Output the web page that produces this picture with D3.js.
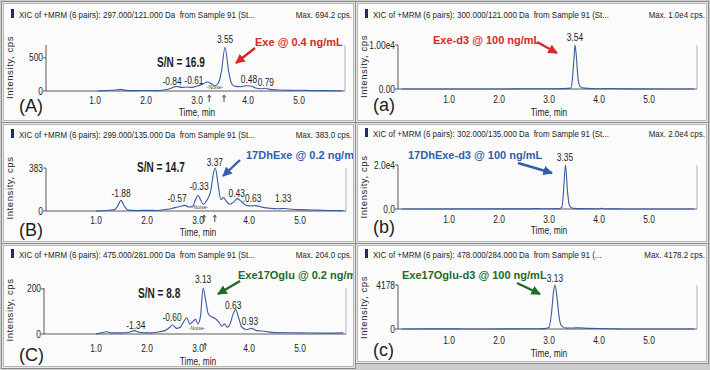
<!DOCTYPE html>
<html>
<head>
<meta charset="utf-8">
<script src="https://cdn.jsdelivr.net/npm/d3@7"></script>
<style>
  body { margin: 0; background: #fff; }
  text { font-family: "Liberation Sans", Arial, sans-serif; fill: #1e1e1e; }
</style>
</head>
<body>
<svg id="chart" width="710" height="370"></svg>
<script>
// time (min) / intensity (cps) pairs
const traceA = [[1.05,0],[1.2,5],[1.4,15],[1.5,25],[1.6,10],[1.8,5],[2.0,8],[2.2,5],[2.35,15],[2.5,45],[2.6,70],[2.7,55],[2.8,60],[2.9,55],[3.0,75],[3.1,100],[3.2,135],[3.28,110],[3.35,80],[3.42,120],[3.48,300],[3.55,660],[3.62,300],[3.68,110],[3.75,70],[3.85,65],[3.95,80],[4.05,75],[4.15,45],[4.25,35],[4.33,42],[4.42,25],[4.6,15],[4.8,10],[5.0,12],[5.2,8],[5.5,5],[5.85,3]];
const traceAd3 = [[0.05,0],[2.0,0],[2.5,40],[2.8,60],[3.0,50],[3.3,80],[3.44,200],[3.47,2500],[3.5,7000],[3.52,10000],[3.55,7000],[3.58,2500],[3.62,600],[3.7,200],[4.0,60],[4.3,120],[4.4,60],[4.6,20],[5.9,0]];
const traceB = [[1.0,0],[1.2,5],[1.35,10],[1.42,40],[1.49,95],[1.56,40],[1.63,8],[1.8,5],[2.0,6],[2.2,5],[2.4,15],[2.55,30],[2.65,40],[2.75,50],[2.82,35],[2.9,45],[2.95,100],[3.0,140],[3.05,100],[3.1,60],[3.18,100],[3.25,180],[3.3,330],[3.34,383],[3.39,250],[3.45,100],[3.5,120],[3.55,90],[3.62,60],[3.7,80],[3.77,110],[3.86,80],[3.95,50],[4.05,45],[4.12,48],[4.3,30],[4.4,25],[4.55,20],[4.7,22],[4.85,15],[5.0,12],[5.3,8],[5.6,5],[5.85,3]];
const traceBd3 = [[0.05,0],[2.6,50],[2.75,250],[2.85,100],[3.0,80],[3.2,150],[3.26,1000],[3.29,8000],[3.33,20000],[3.37,8000],[3.41,1500],[3.48,300],[3.7,150],[4.0,120],[4.05,300],[4.1,100],[4.5,30],[5.9,0]];
const traceC = [[1.0,0],[1.1,5],[1.2,10],[1.3,5],[1.5,5],[1.65,8],[1.75,15],[1.85,8],[2.0,5],[2.2,8],[2.35,15],[2.45,30],[2.5,40],[2.58,25],[2.65,30],[2.72,55],[2.78,72],[2.84,45],[2.9,55],[2.95,65],[3.0,45],[3.05,80],[3.1,204],[3.15,150],[3.2,90],[3.27,75],[3.33,70],[3.4,55],[3.47,35],[3.52,45],[3.57,30],[3.62,40],[3.7,95],[3.74,108],[3.8,70],[3.86,30],[3.95,20],[4.05,25],[4.15,15],[4.3,12],[4.5,6],[5.0,5],[5.5,4],[5.85,5]];
const traceCd3 = [[0.05,0],[1.2,10],[1.3,0],[2.6,20],[2.9,40],[3.0,150],[3.05,1500],[3.09,3500],[3.12,4178],[3.16,3000],[3.2,1200],[3.25,300],[3.35,80],[3.5,100],[3.6,110],[3.8,60],[4.3,30],[4.4,0],[5.9,0]];

// peak labels: [text, time, cps at label baseline]
const peaksA = [["3.55",3.55,717],["-0.84",2.51,98],["-0.61",2.94,113],["0.48",4.02,128],["0.79",4.35,83]];
const peaksAd3 = [["3.54",3.52,10800]];
const peaksB = [["-1.88",1.49,129],["-0.57",2.59,76],["-0.33",3.02,183],["3.37",3.33,405],["0.43",3.76,129],[".0.63",4.06,76],["1.33",4.67,76]];
const peaksBd3 = [["3.35",3.32,21600]];
const peaksC = [["-1.34",1.78,24],["-0.60",2.49,56],["3.13",3.1,224],["0.63",3.69,113],["0.93",4.02,42]];
const peaksCd3 = [["3.13",3.12,4510]];

const xTicks = [1, 2, 3, 4, 5];
const titles = [
  ["XIC of +MRM (6 pairs): 297.000/121.000 Da  from Sample 91 (St...", "Max. 694.2 cps."],
  ["XIC of +MRM (6 pairs): 300.000/121.000 Da  from Sample 91 (St...", "Max. 1.0e4 cps."],
  ["XIC of +MRM (6 pairs): 299.000/135.000 Da  from Sample 91 (St...", "Max. 383.0 cps."],
  ["XIC of +MRM (6 pairs): 302.000/135.000 Da  from Sample 91 (St...", "Max. 2.0e4 cps."],
  ["XIC of +MRM (6 pairs): 475.000/281.000 Da  from Sample 91 (St...", "Max. 204.0 cps."],
  ["XIC of +MRM (6 pairs): 478.000/284.000 Da  from Sample 91 (...", "Max. 4178.2 cps."]
];
const maxCps = [694.2, 10000, 383.0, 20000, 204.0, 4178.2];
const yTickVals = [[0, 500], [0, 10000], [0, 383], [0, 20000], [0, 200], [0, 4178]];
const yTickText = [["0", "500"], ["0.00", "1.00e4"], ["0", "383"], ["0.0", "2.0e4"], ["0", "200"], ["0", "4178"]];
const letters = ["(A)", "(a)", "(B)", "(b)", "(C)", "(c)"];
const notes = [
  ["Exe @ 0.4 ng/mL", "#d52a2a", "S/N = 16.9"],
  ["Exe-d3 @ 100 ng/mL", "#d52a2a", null],
  ["17DhExe @ 0.2 ng/mL", "#2f5fae", "S/N = 14.7"],
  ["17DhExe-d3 @ 100 ng/mL", "#2f5fae", null],
  ["Exe17Oglu @ 0.2 ng/mL", "#1f6a2c", "S/N = 8.8"],
  ["Exe17Oglu-d3 @ 100 ng/mL", "#1f6a2c", null]
];
const traces = [traceA, traceAd3, traceB, traceBd3, traceC, traceCd3];
const peaks = [peaksA, peaksAd3, peaksB, peaksBd3, peaksC, peaksCd3];
// noise window markers (time of the little arrows under the axis)
const noiseMarks = [[3.24, 3.53], null, [3.12, 3.33], null, [3.14], null];

// layout of each panel (pixels)
const layout = [
  {fx:3,  fy:3,   fw:351, fh:118, t0:44,  ppm:51, ax:46,  xe:345, base:91,  top:45,  tick:104, tl:116, lt:112, title:18,
   note:[255,46,255,48,236,63], sn:[157,67], noise:[215,89]},
  {fx:357,fy:3,   fw:350, fh:118, t0:399, ppm:50, ax:398, xe:697, base:89,  top:45,  tick:103, tl:116, lt:111, title:18,
   note:[433,44,537,42,557,53]},
  {fx:3,  fy:124, fw:351, fh:118, t0:45,  ppm:51, ax:46,  xe:346, base:211, top:168, tick:224, tl:236, lt:236, title:138,
   note:[246,159,240,160,223,176], sn:[137,172], noise:[200,209]},
  {fx:357,fy:124, fw:350, fh:118, t0:399, ppm:50, ax:398, xe:697, base:209, top:165, tick:223, tl:234, lt:233, title:137,
   note:[408,159,518,163,552,173]},
  {fx:3,  fy:245, fw:351, fh:122, t0:45,  ppm:51, ax:44,  xe:346, base:334, top:288, tick:352, tl:365, lt:361, title:258,
   note:[238,279,240,281,218,294], sn:[138,298], noise:[197,330]},
  {fx:357,fy:245, fw:350, fh:117, t0:399, ppm:50, ax:398, xe:697, base:329, top:285, tick:344, tl:357, lt:356, title:258,
   note:[402,279,517,283,540,294]}
];

const svg = d3.select("#chart");
svg.append("rect").attr("width", 710).attr("height", 370).attr("fill", "#cdcdcd");

// condensed text: no narrow face installed, so squeeze horizontally
function nt(g, x, y, size, str, anchor, sx) {
  return g.append("text")
    .attr("transform", `translate(${x},${y}) scale(${sx || 0.8},1)`)
    .attr("font-size", size).attr("text-anchor", anchor || "start").text(str);
}

const defs = svg.append("defs");
["#d52a2a", "#2f5fae", "#1f6a2c"].forEach((c, i) => {
  defs.append("marker").attr("id", "ah" + i).attr("viewBox", "0 0 10 10")
    .attr("refX", 9).attr("refY", 5).attr("markerWidth", 4).attr("markerHeight", 4)
    .attr("orient", "auto")
    .append("path").attr("d", "M0,0L10,5L0,10z").attr("fill", c);
});
const colorIdx = {"#d52a2a": 0, "#2f5fae": 1, "#1f6a2c": 2};

layout.forEach((L, i) => {
  defs.append("clipPath").attr("id", "clip" + i).append("rect")
    .attr("x", L.fx + 1).attr("y", L.fy + 1).attr("width", L.fw - 2).attr("height", L.fh - 2);

  const outer = svg.append("g");
  outer.append("rect").attr("x", L.fx - 1.5).attr("y", L.fy - 1.5).attr("width", L.fw + 3).attr("height", L.fh + 3)
    .attr("fill", "#e8e8e8").attr("stroke", "#8a8a8a");
  outer.append("rect").attr("x", L.fx + 0.5).attr("y", L.fy + 0.5).attr("width", L.fw - 1).attr("height", L.fh - 1)
    .attr("fill", "#fbfbfb").attr("stroke", "#b5b5b5");
  const g = svg.append("g").attr("clip-path", `url(#clip${i})`);

  // header
  g.append("rect").attr("x", L.fx + 8).attr("y", L.title - 9).attr("width", 3).attr("height", 9).attr("fill", "#1d2c6b");
  nt(g, L.fx + 16, L.title, 9.5, titles[i][0], "start", 0.84).attr("xml:space", "preserve");
  nt(g, L.fx + L.fw - 2, L.title, 9.5, titles[i][1], "end", 0.84);

  const x = d3.scaleLinear().domain([0, 1]).range([L.t0, L.t0 + L.ppm]);
  const y = d3.scaleLinear().domain([0, maxCps[i]]).range([L.base, L.top]);

  // axes
  g.append("line").attr("x1", L.ax).attr("x2", L.ax).attr("y1", L.base).attr("y2", L.top).attr("stroke", "#333").attr("stroke-width", 0.8);
  g.append("line").attr("x1", L.ax).attr("x2", L.xe).attr("y1", L.base).attr("y2", L.base).attr("stroke", "#333").attr("stroke-width", 0.8);
  g.append("line").attr("x1", L.xe).attr("x2", L.xe).attr("y1", L.base).attr("y2", L.top).attr("stroke", "#9a9a9a").attr("stroke-width", 0.7);

  yTickVals[i].forEach((v, k) => {
    g.append("line").attr("x1", L.ax - 3).attr("x2", L.ax).attr("y1", y(v)).attr("y2", y(v)).attr("stroke", "#333").attr("stroke-width", 0.8);
    nt(g, L.ax - 3, y(v) + 3.5, 10.5, yTickText[i][k], "end", 0.8);
  });
  xTicks.forEach(t => nt(g, x(t), L.tick, 10.5, t.toFixed(1), "middle", 0.8));
  nt(g, x(3), L.tl, 10.5, "Time, min", "middle", 0.8);

  const yMid = (L.base + L.fy + 15) / 2 + 13;
  g.append("text").attr("transform", `translate(${L.fx + 10},${yMid}) rotate(-90)`)
    .attr("font-size", 9.5).attr("letter-spacing", 0.6).attr("text-anchor", "middle").text("Intensity, cps");
  g.append("text").attr("x", L.fx + 16).attr("y", L.lt).attr("font-size", 18).text(letters[i]);

  // trace
  const line = d3.line().x(d => x(d[0])).y(d => y(d[1])).curve(d3.curveMonotoneX);
  g.append("path").datum(traces[i]).attr("d", line).attr("fill", "none")
    .attr("stroke", "#3d5b9c").attr("stroke-width", 1.1);

  peaks[i].forEach(p => nt(g, x(p[1]), y(p[2]), 10.5, p[0], "middle", 0.8));

  if (noiseMarks[i]) {
    nt(g, L.noise[0], L.noise[1], 6, "-Noise-", "middle", 0.85).style("fill", "#444");
    noiseMarks[i].forEach(t => {
      const mx = x(t), my = L.tick - 9;
      g.append("path").attr("d", `M${mx},${my + 7}V${my + 1}M${mx - 1.5},${my + 2.5}L${mx},${my}L${mx + 1.5},${my + 2.5}`)
        .attr("fill", "none").attr("stroke", "#222").attr("stroke-width", 0.8);
    });
  }

  // annotations
  const [label, col, sn] = notes[i];
  const n = L.note;
  g.append("text").attr("x", n[0]).attr("y", n[1]).attr("font-size", 11).attr("font-weight", "bold")
    .style("fill", col).text(label);
  g.append("line").attr("x1", n[2]).attr("y1", n[3]).attr("x2", n[4]).attr("y2", n[5])
    .attr("stroke", col).attr("stroke-width", 2.4).attr("marker-end", `url(#ah${colorIdx[col]})`);
  if (sn) nt(g, L.sn[0], L.sn[1], 14, sn, "start", 0.72).attr("font-weight", "bold");
});
</script>
</body>
</html>
